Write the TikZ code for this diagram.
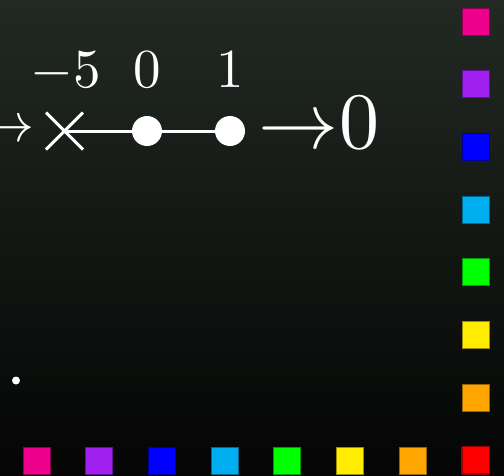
\documentclass[tikz,border=0pt]{standalone}
\definecolor{bgtop}{RGB}{34,41,35}
\definecolor{bgbot}{RGB}{4,5,4}
\definecolor{cmag}{RGB}{236,0,140}
\definecolor{cpur}{RGB}{160,32,240}
\definecolor{cblu}{RGB}{0,0,255}
\definecolor{ccya}{RGB}{0,174,239}
\definecolor{cgre}{RGB}{0,255,0}
\definecolor{cyel}{RGB}{255,236,0}
\definecolor{cora}{RGB}{255,165,0}
\definecolor{cred}{RGB}{255,0,0}
\newcommand{\mylbl}[1]{\scalebox{5.5}{#1}}
\newcommand{\mybig}[1]{\scalebox{8}{#1}}
\tikzset{
  sq/.style={draw=#1!60!black, fill=#1, line width=1pt, minimum size=27pt, inner sep=0pt, outer sep=0pt},
  dotnode/.style={circle, fill=white, minimum size=30pt, inner sep=0pt},
  lbl/.style={text=white, inner sep=0pt, font=\fontsize{10}{12}\selectfont, anchor=base},
  ln/.style={white, line width=3pt}
}
\begin{document}
\begin{tikzpicture}[x=1pt,y=-1pt]
\shade[top color=bgtop, bottom color=bgbot] (0,0) rectangle (504,475);
\useasboundingbox (0,0) rectangle (504,475);
% left arrow (cut off)
\node[lbl, anchor=base east] (larr) at (35,141.5) {\mylbl{$\rightarrow$}};
% cross
\coordinate (cx) at (64.5,131);
\draw[ln] (46,112.5) -- (83,149.5) (83,112.5) -- (46,149.5);
% dots
\node[dotnode] (d0) at (147,131) {};
\node[dotnode] (d1) at (230,131) {};
\draw[ln] (cx) -- (d0) -- (d1);
% labels
\node[lbl] (l5) at (66,87.5) {\mylbl{$-5$}};
\node[lbl] (l0) at (147.5,87.5) {\mylbl{$0$}};
\node[lbl] (l1) at (230,87.5) {\mylbl{$1$}};
% arrow to zero
\node[lbl, anchor=base west] (rarr) at (258.5,148) {\mybig{$\rightarrow$}};
\node[lbl] (zero) at (359.5,148) {\mybig{$0$}};
% small dot
\node[circle, fill=white, minimum size=8pt, inner sep=0pt] (sd) at (16,380.5) {};
% squares
\foreach \c [count=\i from 0] in {cmag,cpur,cblu,ccya,cgre,cyel,cora,cred} {
  \node[sq=\c] (b\i) at (36.5+62.7*\i,460.5) {};
  \node[sq=\c] (r\i) at (475.5,21.5+62.7*\i) {};
}
\end{tikzpicture}
\end{document}
